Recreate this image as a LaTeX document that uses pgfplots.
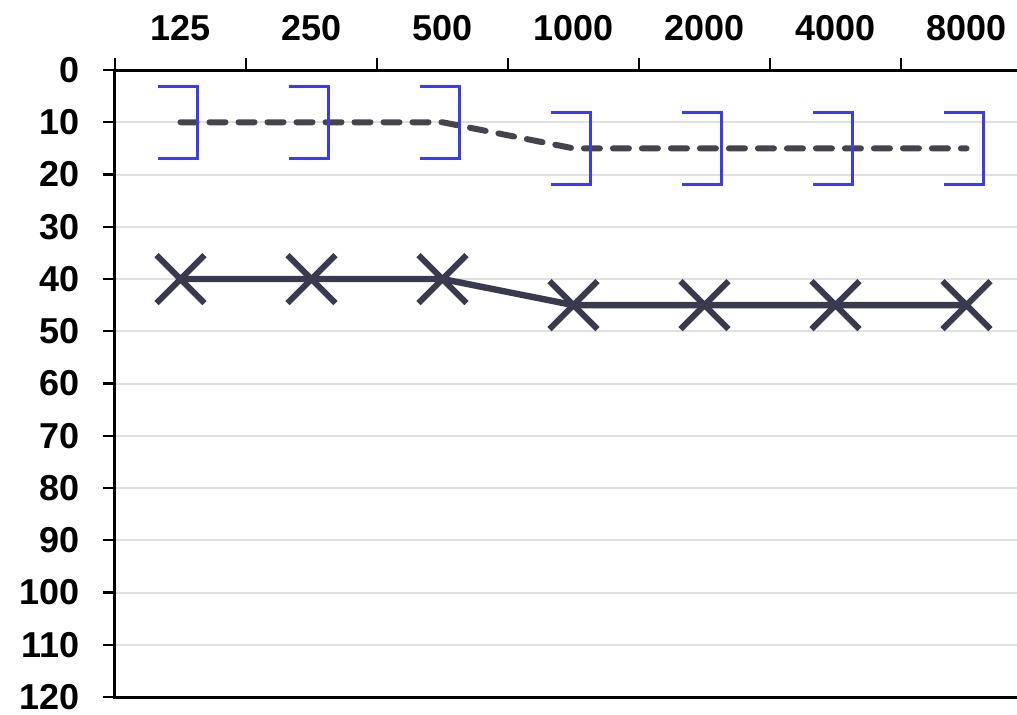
\documentclass[border=0pt]{standalone}
\usepackage{fontspec}
\setmainfont{Liberation Sans}
\usepackage{pgfplots}
\pgfplotsset{compat=1.18}
\definecolor{lineA}{RGB}{58,58,78}
\definecolor{lineB}{RGB}{68,68,78}
\definecolor{brk}{RGB}{60,60,235}
\definecolor{gridc}{RGB}{224,224,224}
\pgfdeclareplotmark{rbr}{%
  \pgfpathmoveto{\pgfqpoint{-11.5pt}{18pt}}%
  \pgfpathlineto{\pgfqpoint{8.5pt}{18pt}}%
  \pgfpathlineto{\pgfqpoint{8.5pt}{-18pt}}%
  \pgfpathlineto{\pgfqpoint{-11.5pt}{-18pt}}%
  \pgfusepathqstroke}
\pgfdeclareplotmark{bigx}{%
  \pgfpathmoveto{\pgfqpoint{-12pt}{-12pt}}%
  \pgfpathlineto{\pgfqpoint{12pt}{12pt}}%
  \pgfpathmoveto{\pgfqpoint{-12pt}{12pt}}%
  \pgfpathlineto{\pgfqpoint{12pt}{-12pt}}%
  \pgfusepathqstroke}
\begin{document}
\begin{tikzpicture}
\path[use as bounding box] (0,0) rectangle (508.5pt,357pt);
\begin{axis}[
  at={(57.5pt,8.5pt)}, anchor=south west,
  scale only axis, width=458.5pt, height=313.5pt,
  xmin=-0.5, xmax=6.5, ymin=0, ymax=120, y dir=reverse,
  axis line style={line width=1.5pt, black},
  tick style={line width=1.2pt, black},
  major tick length=6pt, tick align=outside,
  xtick pos=right, ytick pos=left,
  xticklabel pos=right,
  xtick={-0.5,0.5,...,6.5}, xticklabels={},
  extra x ticks={0,1,2,3,4,5,6},
  extra x tick labels={125,250,500,1000,2000,4000,8000},
  extra x tick style={major tick length=0pt},
  xticklabel style={yshift=11pt},
  yticklabel style={xshift=-8pt},
  ytick={0,10,...,120},
  ymajorgrids, grid style={gridc, line width=1pt},
  /pgf/number format/assume math mode=true,
  ticklabel style={font=\bfseries\fontsize{18}{21}\selectfont},
  clip=false,
]
\addplot[lineA, line width=3.2pt, mark=bigx, mark options={line width=3pt}]
  coordinates {(0,40) (1,40) (2,40) (3,45) (4,45) (5,45) (6,45)};
\addplot[lineB, line width=3pt, line cap=round, dash pattern=on 8pt off 6.5pt]
  coordinates {(0,10) (1,10) (2,10) (3,15) (4,15) (5,15) (6,15)};
\addplot[brk, only marks, mark=rbr, mark options={line width=1.7pt, solid}]
  coordinates {(0,10) (1,10) (2,10) (3,15) (4,15) (5,15) (6,15)};
\end{axis}
\end{tikzpicture}
\end{document}
